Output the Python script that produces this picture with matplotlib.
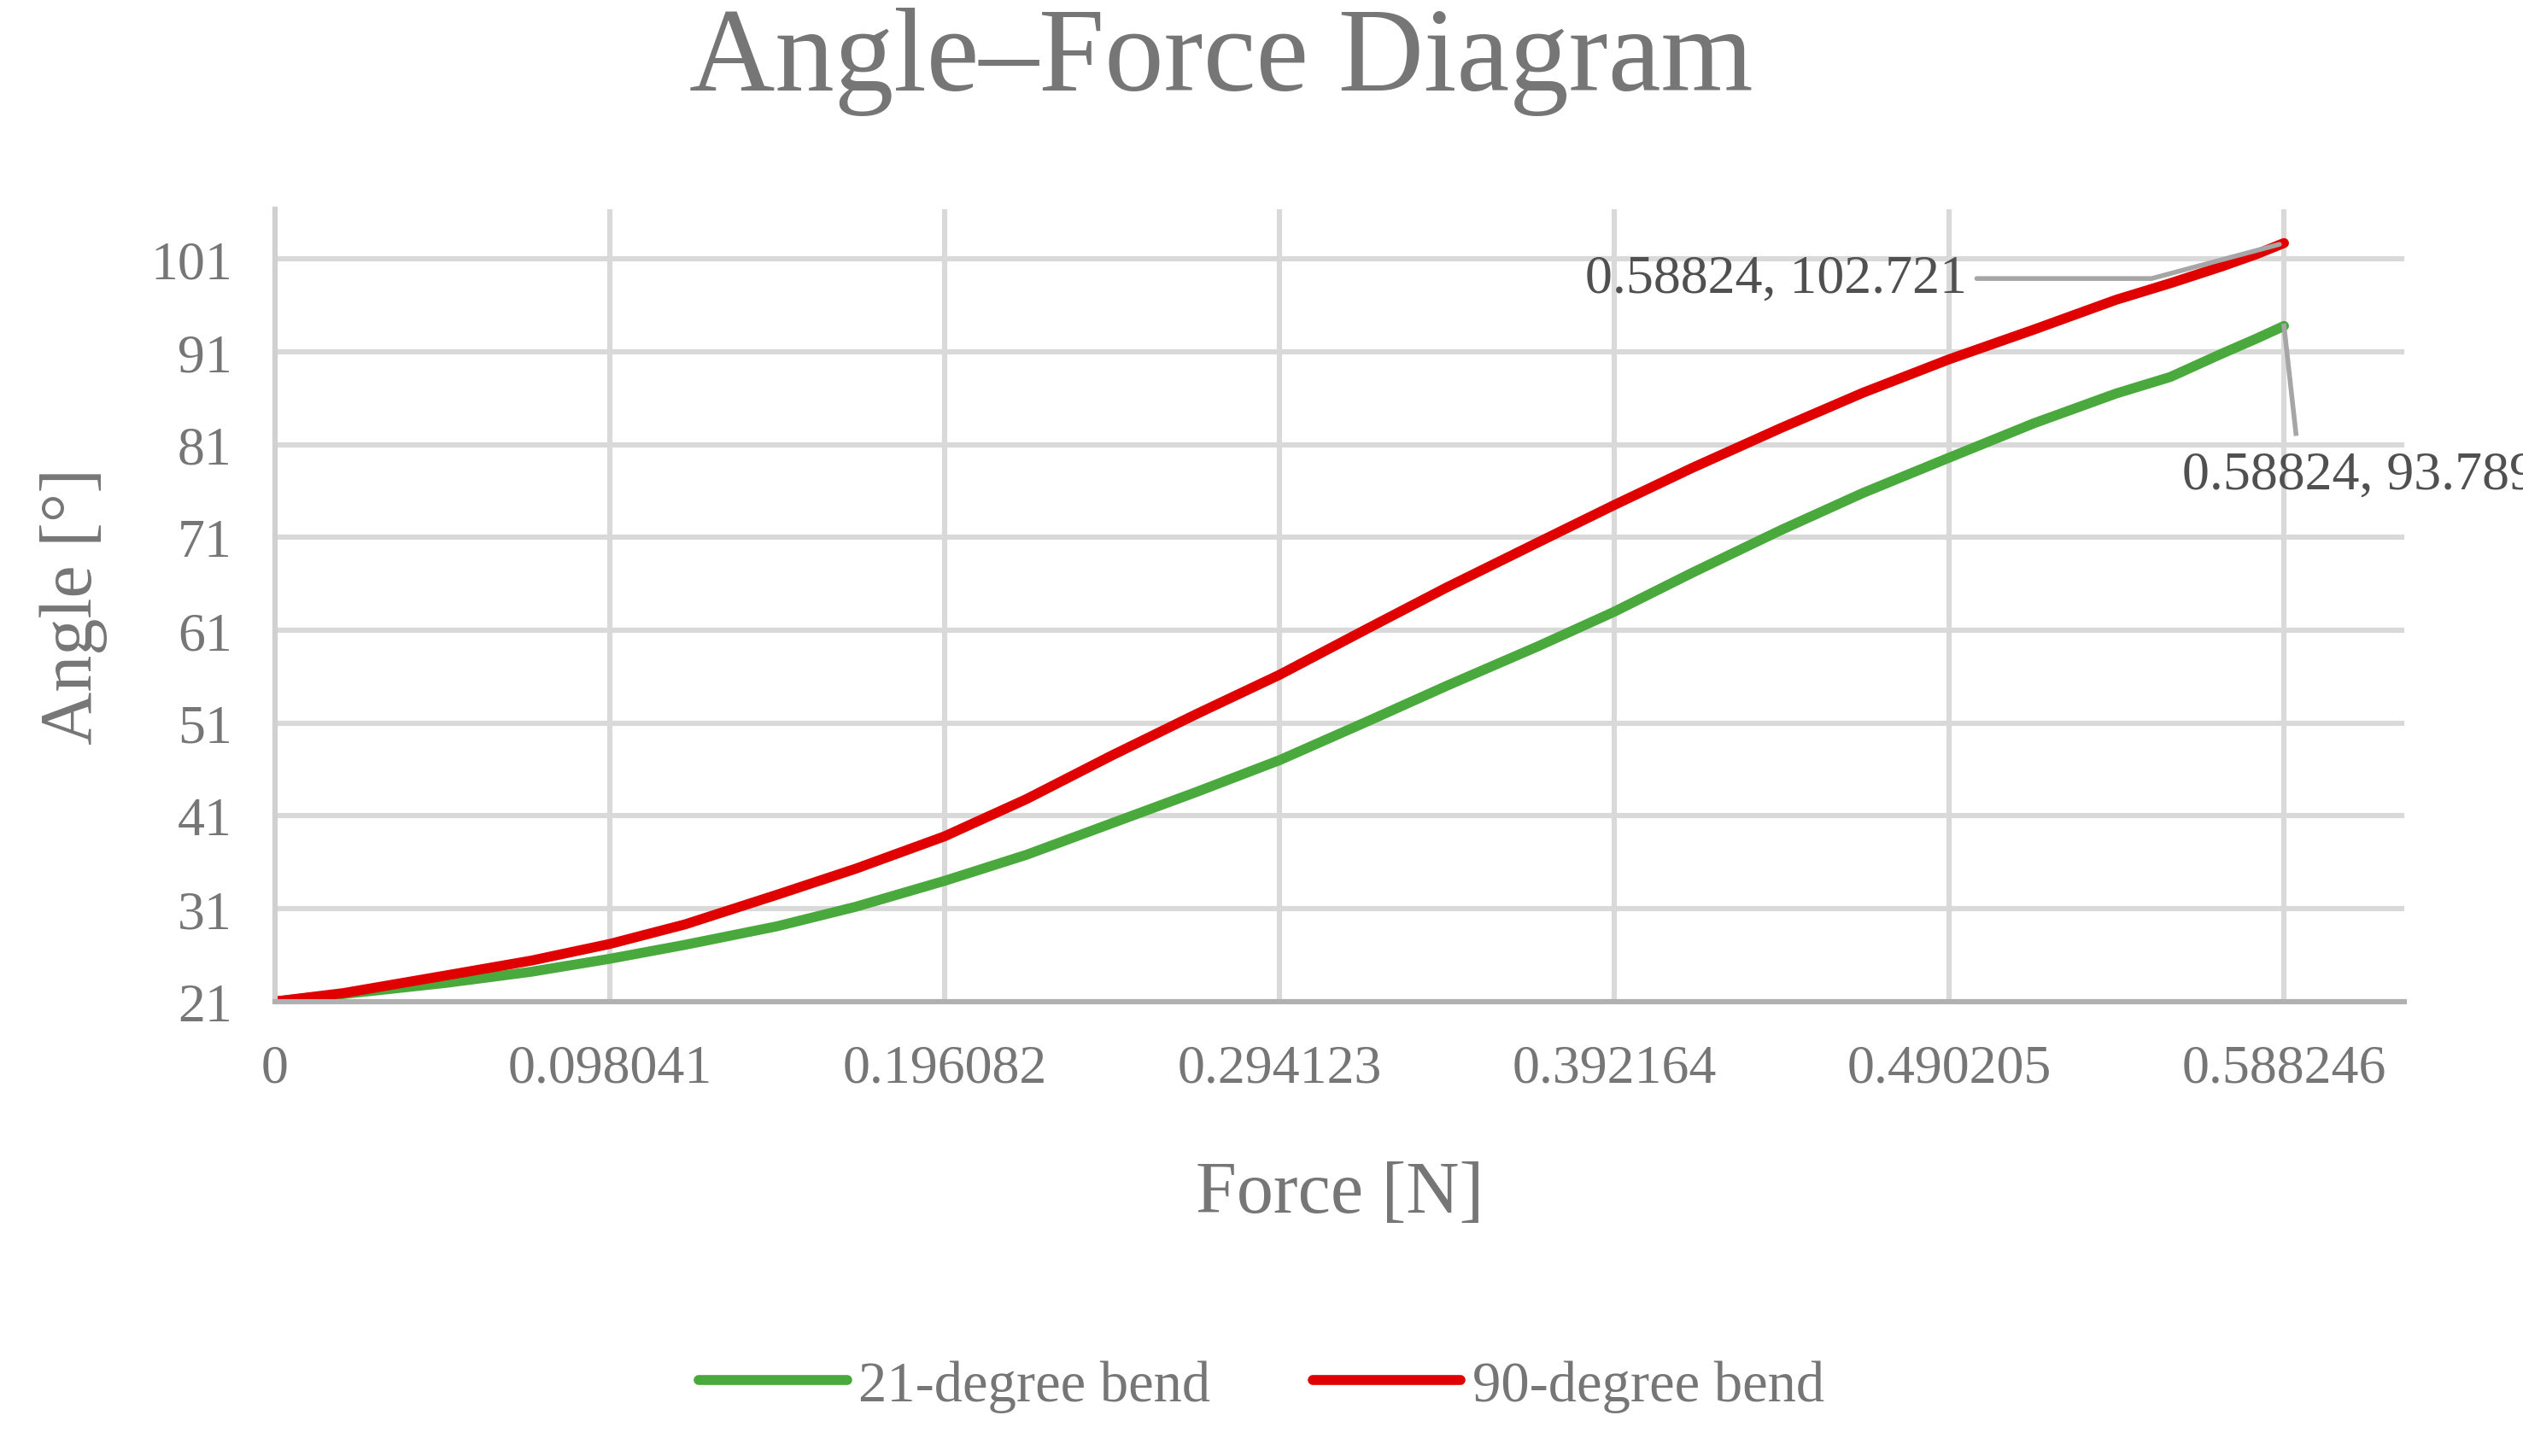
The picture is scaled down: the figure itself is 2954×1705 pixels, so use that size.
import matplotlib
matplotlib.use("Agg")
from matplotlib import pyplot as plt

force = [0, 0.02, 0.05, 0.075, 0.098041, 0.12, 0.147, 0.17, 0.196082, 0.22, 0.245, 0.27,
         0.294123, 0.32, 0.343, 0.37, 0.392164, 0.415, 0.441, 0.465, 0.490205, 0.515,
         0.539, 0.555, 0.57, 0.58, 0.58824]
angle_21 = [21, 21.8, 23.0, 24.2, 25.6, 27.1, 29.1, 31.2, 34.0, 36.8, 40.2, 43.6,
            47.0, 51.2, 55.0, 59.3, 63.0, 67.2, 71.8, 75.8, 79.6, 83.3,
            86.5, 88.3, 90.8, 92.4, 93.789]
angle_90 = [21, 21.9, 23.8, 25.4, 27.2, 29.3, 32.5, 35.3, 38.8, 42.8, 47.5, 52.0,
            56.2, 61.2, 65.6, 70.5, 74.5, 78.5, 82.8, 86.6, 90.2, 93.4,
            96.6, 98.4, 100.2, 101.5, 102.721]
xticks = [0, 0.098041, 0.196082, 0.294123, 0.392164, 0.490205, 0.588246]
xtick_labels = ["0", "0.098041", "0.196082", "0.294123", "0.392164", "0.490205", "0.588246"]
yticks = [21, 31, 41, 51, 61, 71, 81, 91, 101]

grey = "#767676"
plt.rcParams['font.family'] = ['Liberation Serif', 'DejaVu Serif']

fig = plt.figure(figsize=(14.77, 8.53), dpi=200)
ax = fig.add_axes([0.109, 0.312, 0.844, 0.544])

ax.plot(force, angle_21, color="#4aa93c", lw=4.2, label="21-degree bend", solid_capstyle="round")
ax.plot(force, angle_90, color="#e00000", lw=4.2, label="90-degree bend", solid_capstyle="round")

ax.set_xlim(0, 0.6235)
ax.set_ylim(21, 106.4)
ax.set_xticks(xticks)
ax.set_xticklabels(xtick_labels)
ax.set_yticks(yticks)
ax.grid(True, color="#d9d9d9", lw=2.2)
ax.set_axisbelow(True)
for s in ["top", "right"]:
    ax.spines[s].set_visible(False)
ax.spines["left"].set_color("#d0d0d0")
ax.spines["left"].set_linewidth(2.2)
ax.spines["bottom"].set_color("#b0b0b0")
ax.spines["bottom"].set_linewidth(2.2)
ax.tick_params(length=0, labelsize=23, labelcolor=grey, pad=18)
ax.set_xlabel("Force [N]", fontsize=31, color=grey, labelpad=28)
ax.set_ylabel("Angle [°]", fontsize=31, color=grey, labelpad=18)
fig.suptitle("Angle\u2013Force Diagram", fontsize=50, color=grey, x=0.484, y=0.995)

ax.annotate("0.58824, 102.721", xy=(force[-1], angle_90[-1]), xytext=(0.4955, 98.9),
            ha="right", va="center", fontsize=23, color="#505050",
            arrowprops=dict(arrowstyle="-", color="#a6a6a6", lw=2,
                            connectionstyle="angle,angleA=0,angleB=15,rad=0", relpos=(1, 0.5)))
ax.text(0.5585, 77.7, "0.58824, 93.789", ha="left", va="center", fontsize=23,
        color="#505050", clip_on=False)
ax.plot([force[-1], force[-1] + 0.0035], [angle_21[-1], 82.2], color="#a6a6a6", lw=2, clip_on=False)

fig.legend(loc="lower center", bbox_to_anchor=(0.5, -0.005), ncol=2, frameon=False,
           fontsize=24, labelcolor=grey, handlelength=2.6, handletextpad=0.2, columnspacing=1.8)

fig.savefig("out.png")
